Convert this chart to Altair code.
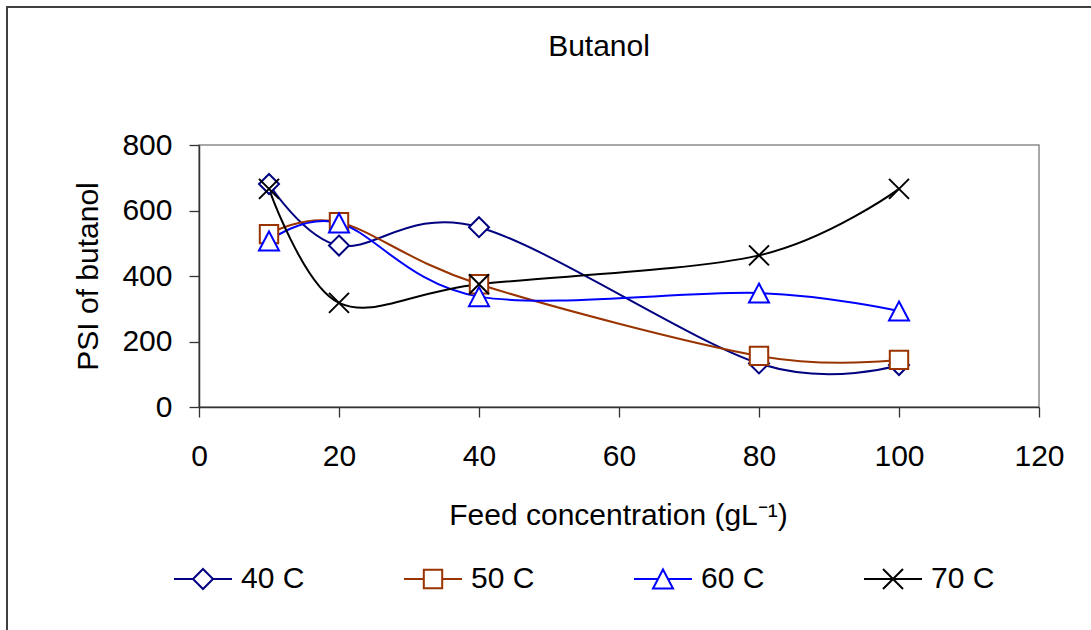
import altair as alt
import pandas as pd

# Feed concentration (g/L) and PSI of butanol at four temperatures
feed = [10, 20, 40, 80, 100]
series_names = ["40 C", "50 C", "60 C", "70 C"]
psi_40 = [681, 493, 549, 133, 128]
psi_50 = [528, 564, 375, 156, 144]
psi_60 = [507, 562, 337, 348, 293]
psi_70 = [666, 318, 375, 463, 666]

x_ticks = [0, 20, 40, 60, 80, 100, 120]
y_ticks = [0, 200, 400, 600, 800]

colors = ["#000080", "#993300", "#0000FF", "#000000"]

# hollow markers: diamond, square, triangle, x
marker_paths = [
    "M0,-1L1,0L0,1L-1,0Z",
    "M-0.92,-0.92L0.92,-0.92L0.92,0.92L-0.92,0.92Z",
    "M0,-0.95L1,0.95L-1,0.95Z",
    "M-1,-1L1,1M-1,1L1,-1",
]
# legend keys: a short line segment on each side of the marker
legend_paths = [
    "M-2.9,0L-1,0M1,0L2.9,0M0,-1L1,0L0,1L-1,0Z",
    "M-2.9,0L-0.92,0M0.92,0L2.9,0M-0.92,-0.92L0.92,-0.92L0.92,0.92L-0.92,0.92Z",
    "M-2.9,0L-0.5,0M0.5,0L2.9,0M0,-0.95L1,0.95L-1,0.95Z",
    "M-2.9,0L2.9,0M-1,-1L1,1M-1,1L1,-1",
]

rows = []
for name, vals in zip(series_names, [psi_40, psi_50, psi_60, psi_70]):
    for f, v in zip(feed, vals):
        rows.append({"series": name, "feed": f, "psi": v})
df = pd.DataFrame(rows)

FONT = "Liberation Sans"

x_enc = alt.X(
    "feed:Q",
    scale=alt.Scale(domain=[0, 120], nice=False),
    axis=alt.Axis(
        values=x_ticks,
        title="Feed concentration (gL⁻¹)",
        titleX=419,
        titleY=117,
        titleAlign="center",
        titleBaseline="alphabetic",
        labelBaseline="alphabetic",
        labelPadding=48,
        labelFlush=False,
    ),
)
y_enc = alt.Y(
    "psi:Q",
    scale=alt.Scale(domain=[0, 800], nice=False),
    axis=alt.Axis(
        values=y_ticks,
        title="PSI of butanol",
        titleAngle=270,
        titleX=-102,
        titleY=131,
        titleAlign="center",
        titleBaseline="alphabetic",
        labelPadding=17,
        labelBaseline="middle",
    ),
)

base = alt.Chart(df)

# outer chart border
frame = base.mark_rect(
    fill="transparent", stroke="#404040", strokeWidth=1.7
).encode(
    x=alt.value(-192), x2=alt.value(1100), y=alt.value(-138), y2=alt.value(700)
)

# chart heading
heading = alt.Chart(pd.DataFrame({"label": ["Butanol"]})).mark_text(
    font=FONT, fontSize=30, color="black", align="center", baseline="alphabetic"
).encode(
    text="label:N", x=alt.value(400), y=alt.value(-89)
)

lines = base.mark_line(interpolate="cardinal", tension=0, strokeWidth=2).encode(
    x=x_enc,
    y=y_enc,
    color=alt.Color(
        "series:N",
        scale=alt.Scale(domain=series_names, range=colors),
        legend=None,
    ),
    detail="series:N",
)

points = base.mark_point(filled=False, fill="white", opacity=1).encode(
    x=x_enc,
    y=y_enc,
    shape=alt.Shape(
        "series:N",
        scale=alt.Scale(domain=series_names, range=marker_paths),
        legend=None,
    ),
    stroke=alt.Stroke(
        "series:N",
        scale=alt.Scale(domain=series_names, range=colors),
        legend=None,
    ),
    fill=alt.value("white"),
    fillOpacity=alt.value(1),
    size=alt.value(400),
    strokeWidth=alt.value(2),
)

legend_layer = base.mark_point(filled=False, opacity=0).encode(
    x=x_enc,
    y=y_enc,
    shape=alt.Shape(
        "series:N",
        scale=alt.Scale(domain=series_names, range=legend_paths),
        legend=alt.Legend(title=None),
    ),
    stroke=alt.Stroke(
        "series:N",
        scale=alt.Scale(domain=series_names, range=colors),
        legend=alt.Legend(title=None),
    ),
)

chart = (
    alt.layer(frame, heading, lines, points, legend_layer)
    .resolve_scale(shape="independent", stroke="independent")
    .properties(
        width=840,
        height=262,
        autosize=alt.AutoSizeParams(type="none"),
        padding={"left": 199, "top": 145, "right": 52, "bottom": 223},
        background="white",
    )
    .configure(font=FONT)
    .configure_view(stroke="#8c8c8c", strokeWidth=1.5)
    .configure_axis(
        grid=False,
        domainColor="#333333",
        domainWidth=1.5,
        tickColor="#333333",
        tickWidth=1.3,
        tickSize=10,
        labelFont=FONT,
        labelFontSize=30,
        labelColor="black",
        titleFont=FONT,
        titleFontSize=30,
        titleFontWeight="normal",
        titleColor="black",
    )
    .configure_legend(
        orient="none",
        legendX=-11,
        legendY=419,
        direction="horizontal",
        columns=4,
        columnPadding=95,
        padding=0,
        labelFont=FONT,
        labelFontSize=30,
        labelColor="black",
        labelOffset=23,
        symbolSize=400,
        symbolStrokeWidth=2,
        symbolOpacity=1,
    )
)

chart.save("out.html", embed_options={"renderer": "svg", "actions": False})
